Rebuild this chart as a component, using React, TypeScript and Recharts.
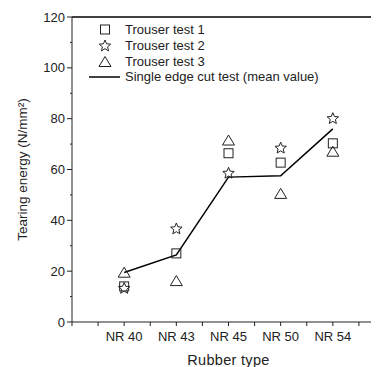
import React from "react";
import {
  ComposedChart,
  Line,
  Scatter,
  XAxis,
  YAxis,
  Legend,
  ReferenceLine,
  Label
} from "recharts";

const RUBBER = ["NR 40", "NR 43", "NR 45", "NR 50", "NR 54"];
const TROUSER_1 = [14, 27, 66.4, 62.7, 70.3];
const TROUSER_2 = [13.2, 36.6, 58.5, 68.4, 80];
const TROUSER_3 = [19.4, 16.1, 71.4, 50.4, 67];
const SINGLE_EDGE = [19.5, 26.4, 57, 57.5, 76];

const X_TICKS = [0, 0.5, 1, 1.5, 2, 2.5, 3, 3.5, 4, 4.5, 5, 5.5, 6];
const Y_TICKS = [0, 10, 20, 30, 40, 50, 60, 70, 80, 90, 100, 110, 120];

const rows = RUBBER.map((name, i) => ({
  x: i + 1,
  name,
  t1: TROUSER_1[i],
  t2: TROUSER_2[i],
  t3: TROUSER_3[i],
  mean: SINGLE_EDGE[i]
}));

const INK = "#222";
const FONT = "'Liberation Sans', Arial, sans-serif";
const AXIS_X = 64;

function starPath(cx: number, cy: number, r: number) {
  const pts: string[] = [];
  for (let k = 0; k < 10; k++) {
    const rr = k % 2 === 0 ? r : r * 0.45;
    const a = -Math.PI / 2 + (k * Math.PI) / 5;
    pts.push(`${(cx + rr * Math.cos(a)).toFixed(2)},${(cy + rr * Math.sin(a)).toFixed(2)}`);
  }
  return `M${pts.join("L")}Z`;
}

const Square = ({ cx, cy }: any) => (
  <rect x={cx - 4.5} y={cy - 4.5} width={9} height={9} fill="none" stroke={INK} strokeWidth={1} />
);
const Star = ({ cx, cy }: any) => (
  <path d={starPath(cx, cy, 6)} fill="none" stroke={INK} strokeWidth={1} />
);
const Triangle = ({ cx, cy }: any) => (
  <path d={`M${cx},${cy - 5.5}L${cx + 6},${cy + 4.5}L${cx - 6},${cy + 4.5}Z`} fill="none" stroke={INK} strokeWidth={1} />
);

function YTick({ y, payload }: any) {
  const major = payload.value % 20 === 0;
  return (
    <g>
      <line x1={AXIS_X - (major ? 5 : 2)} x2={AXIS_X} y1={y} y2={y} stroke={INK} strokeWidth={1} />
      {major && (
        <text x={AXIS_X - 7} y={y} dy={4.5} textAnchor="end" fontSize={13} fill={INK} fontFamily={FONT}>
          {payload.value}
        </text>
      )}
    </g>
  );
}

function LegendBox() {
  const items = [
    { label: "Trouser test 1", icon: <rect x={11.5} y={3} width={9} height={9} fill="none" stroke={INK} /> },
    { label: "Trouser test 2", icon: <path d={starPath(16, 8, 6)} fill="none" stroke={INK} /> },
    { label: "Trouser test 3", icon: <path d="M16,2.5L22,12.5L10,12.5Z" fill="none" stroke={INK} /> },
    { label: "Single edge cut test (mean value)", icon: <line x1={0} x2={31} y1={8} y2={8} stroke="#000" strokeWidth={1.5} /> }
  ];
  return (
    <div style={{ fontFamily: FONT, fontSize: 13, color: INK }}>
      {items.map((it) => (
        <div key={it.label} style={{ display: "flex", alignItems: "center", height: 15.7 }}>
          <svg width={32} height={15} style={{ marginRight: 4 }}>
            {it.icon}
          </svg>
          <span style={{ whiteSpace: "nowrap" }}>{it.label}</span>
        </div>
      ))}
    </div>
  );
}

export default function App() {
  return (
    <div style={{ width: 371, height: 359, overflow: "hidden", background: "#fff" }}>
      <ComposedChart width={390} height={359} data={rows} margin={{ top: 9, right: 13, bottom: 0, left: 0 }}>
        <XAxis
          dataKey="x"
          type="number"
          domain={[0, 6]}
          ticks={X_TICKS}
          interval={0}
          tickSize={4}
          tickMargin={6}
          stroke={INK}
          tick={{ fill: INK, fontSize: 13, fontFamily: FONT }}
          tickFormatter={(v: number) => (Number.isInteger(v) && v >= 1 && v <= 5 ? RUBBER[v - 1] : "")}
          height={45}
        >
          <Label
            content={({ viewBox }: any) => (
              <text
                x={viewBox.x + viewBox.width / 2}
                y={viewBox.y + 43}
                textAnchor="middle"
                fontSize={14.5}
                letterSpacing={0.3}
                fill={INK}
                fontFamily={FONT}
              >
                Rubber type
              </text>
            )}
          />
        </XAxis>
        <YAxis
          type="number"
          domain={[0, 120]}
          ticks={Y_TICKS}
          interval={0}
          width={64}
          stroke={INK}
          tickLine={false}
          tick={<YTick />}
        >
          <Label
            content={({ viewBox }: any) => {
              const cy = viewBox.y + viewBox.height / 2;
              return (
                <text
                  x={14}
                  y={cy}
                  transform={`rotate(-90, 14, ${cy})`}
                  textAnchor="middle"
                  dominantBaseline="central"
                  fontSize={13.5}
                  fill={INK}
                  fontFamily={FONT}
                >
                  Tearing energy (N/mm²)
                </text>
              );
            }}
          />
        </YAxis>
        <ReferenceLine y={120} stroke="#000" strokeWidth={1.5} />
        <Line dataKey="mean" stroke="#000" strokeWidth={1.5} dot={false} isAnimationActive={false} />
        <Scatter data={rows} dataKey="t1" shape={<Square />} isAnimationActive={false} />
        <Scatter data={rows} dataKey="t2" shape={<Star />} isAnimationActive={false} />
        <Scatter data={rows} dataKey="t3" shape={<Triangle />} isAnimationActive={false} />
        <Legend
          layout="vertical"
          align="center"
          verticalAlign="middle"
          content={<LegendBox />}
          wrapperStyle={{ top: 14, left: 81, width: 280 }}
        />
      </ComposedChart>
    </div>
  );
}
